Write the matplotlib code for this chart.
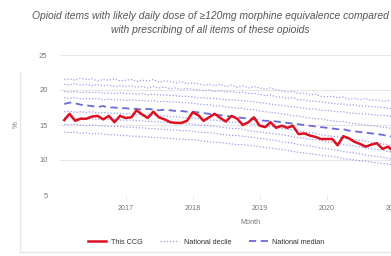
import matplotlib
matplotlib.use("Agg")
import matplotlib.pyplot as plt
import matplotlib.dates as mdates
from matplotlib.lines import Line2D
import pandas as pd

plt.rcParams['font.family'] = ['Liberation Sans', 'DejaVu Sans']

# monthly points, Feb 2016 .. Mar 2021
months = pd.date_range("2016-02-01", periods=62, freq="MS")

this_ccg = [15.7, 16.6, 15.6, 15.9, 15.9, 16.2, 16.3, 15.8, 16.3, 15.4, 16.3, 16.0,
            16.1, 17.1, 16.5, 16.0, 16.9, 16.1, 15.8, 15.4, 15.3, 15.3, 15.6, 16.8,
            16.4, 15.6, 16.1, 16.6, 16.0, 15.5, 16.3, 15.9, 15.0, 15.4, 16.1, 14.9,
            14.7, 15.4, 14.6, 14.9, 14.6, 14.9, 13.7, 13.8, 13.5, 13.3, 13.0, 13.0,
            13.0, 12.1, 13.4, 13.1, 12.6, 12.3, 11.9, 12.2, 12.4, 11.6, 11.9, 11.2,
            11.4, 11.6]

median = [18.0, 18.2, 18.1, 17.9, 17.8, 17.7, 17.6, 17.7, 17.5, 17.5, 17.4, 17.4,
          17.3, 17.3, 17.2, 17.3, 17.2, 17.1, 17.2, 17.1, 17.0, 17.0, 16.9, 16.9,
          16.8, 16.7, 16.6, 16.5, 16.4, 16.3, 16.2, 16.1, 16.0, 15.9, 15.8, 15.7,
          15.6, 15.6, 15.5, 15.4, 15.3, 15.2, 15.1, 15.0, 14.9, 14.8, 14.7, 14.6,
          14.5, 14.4, 14.4, 14.2, 14.1, 14.0, 13.9, 13.8, 13.7, 13.6, 13.4, 13.3,
          13.1, 13.0]

p90 = [21.5, 21.6, 21.4, 21.7, 21.5, 21.6, 21.3, 21.5, 21.4, 21.6, 21.3, 21.4,
       21.5, 21.2, 21.4, 21.3, 21.5, 21.1, 21.3, 21.2, 21.0, 21.2, 20.9, 21.0,
       20.9, 20.7, 20.8, 20.6, 20.8, 20.5, 20.7, 20.4, 20.6, 20.3, 20.5, 20.3,
       20.1, 20.3, 20.0, 19.9, 19.7, 19.8, 19.5, 19.6, 19.3, 19.4, 19.1, 19.0,
       19.1, 18.9, 19.0, 18.7, 18.8, 18.6, 18.8, 18.5, 18.6, 18.4, 18.5, 18.3,
       18.4, 18.2]
p80 = [20.8, 20.7, 20.9, 20.7, 20.8, 20.6, 20.8, 20.6, 20.7, 20.5, 20.6, 20.5,
       20.6, 20.4, 20.5, 20.3, 20.5, 20.3, 20.4, 20.2, 20.3, 20.1, 20.2, 20.1,
       20.0, 19.9, 20.0, 19.8, 19.9, 19.7, 19.8, 19.6, 19.7, 19.5, 19.5, 19.4,
       19.2, 19.3, 19.0, 19.0, 18.8, 18.9, 18.6, 18.6, 18.4, 18.4, 18.3, 18.2,
       18.1, 18.0, 18.0, 17.8, 17.9, 17.7, 17.7, 17.6, 17.6, 17.5, 17.4, 17.3,
       17.4, 17.2]
p70 = [19.8, 19.7, 19.8, 19.6, 19.7, 19.6, 19.7, 19.5, 19.6, 19.5, 19.6, 19.5,
       19.5, 19.4, 19.5, 19.3, 19.4, 19.3, 19.3, 19.2, 19.2, 19.1, 19.1, 19.0,
       18.9, 18.9, 18.8, 18.8, 18.7, 18.6, 18.6, 18.5, 18.5, 18.4, 18.3, 18.2,
       18.1, 18.0, 17.9, 17.8, 17.7, 17.6, 17.5, 17.4, 17.3, 17.3, 17.1, 17.1,
       17.0, 16.9, 16.9, 16.7, 16.7, 16.6, 16.6, 16.5, 16.4, 16.4, 16.3, 16.2,
       16.2, 16.1]
p60 = [18.9, 18.8, 18.9, 18.7, 18.8, 18.7, 18.8, 18.6, 18.7, 18.6, 18.6, 18.5,
       18.6, 18.5, 18.5, 18.4, 18.5, 18.3, 18.4, 18.3, 18.3, 18.2, 18.2, 18.1,
       18.0, 17.9, 17.9, 17.7, 17.7, 17.6, 17.5, 17.4, 17.4, 17.2, 17.2, 17.0,
       16.9, 16.8, 16.7, 16.6, 16.5, 16.3, 16.3, 16.1, 16.0, 15.9, 15.9, 15.7,
       15.6, 15.5, 15.5, 15.3, 15.2, 15.1, 15.0, 14.9, 14.8, 14.7, 14.6, 14.4,
       14.4, 14.2]
p40 = [16.9, 17.0, 16.8, 16.9, 16.8, 16.9, 16.7, 16.8, 16.7, 16.7, 16.6, 16.6,
       16.6, 16.5, 16.5, 16.4, 16.4, 16.3, 16.3, 16.2, 16.2, 16.1, 16.0, 16.0,
       15.9, 15.8, 15.7, 15.7, 15.6, 15.5, 15.4, 15.4, 15.3, 15.2, 15.1, 15.0,
       14.9, 14.8, 14.7, 14.5, 14.4, 14.3, 14.2, 14.0, 13.9, 13.8, 13.6, 13.5,
       13.4, 13.3, 13.1, 13.0, 12.9, 12.8, 12.7, 12.5, 12.4, 12.3, 12.2, 12.0,
       11.9, 11.8]
p30 = [16.0, 16.1, 15.9, 16.0, 15.9, 15.9, 15.8, 15.9, 15.8, 15.8, 15.7, 15.7,
       15.7, 15.6, 15.6, 15.5, 15.5, 15.4, 15.4, 15.3, 15.3, 15.2, 15.2, 15.1,
       15.0, 15.0, 14.9, 14.8, 14.7, 14.6, 14.5, 14.5, 14.4, 14.2, 14.1, 14.0,
       13.9, 13.8, 13.7, 13.6, 13.5, 13.3, 13.2, 13.1, 13.0, 12.9, 12.8, 12.6,
       12.5, 12.4, 12.2, 12.1, 12.0, 11.9, 11.7, 11.6, 11.5, 11.4, 11.2, 11.1,
       11.0, 10.9]
p20 = [15.1, 15.0, 15.1, 15.0, 14.9, 15.0, 14.9, 14.9, 14.8, 14.8, 14.8, 14.7,
       14.7, 14.6, 14.6, 14.5, 14.5, 14.4, 14.4, 14.3, 14.3, 14.2, 14.2, 14.1,
       14.0, 13.9, 13.9, 13.8, 13.7, 13.6, 13.5, 13.5, 13.4, 13.3, 13.2, 13.1,
       13.0, 12.9, 12.8, 12.6, 12.5, 12.4, 12.2, 12.1, 12.0, 11.9, 11.7, 11.6,
       11.5, 11.4, 11.2, 11.1, 11.0, 10.9, 10.7, 10.6, 10.5, 10.4, 10.2, 10.1,
       10.0, 9.9]
p10 = [14.0, 13.9, 14.0, 13.8, 13.9, 13.7, 13.8, 13.7, 13.6, 13.6, 13.5, 13.5,
       13.4, 13.4, 13.3, 13.3, 13.2, 13.2, 13.1, 13.1, 13.0, 13.0, 12.9, 12.9,
       12.8, 12.7, 12.6, 12.5, 12.5, 12.4, 12.3, 12.2, 12.2, 12.1, 12.0, 11.9,
       11.8, 11.7, 11.6, 11.5, 11.4, 11.2, 11.1, 11.0, 10.9, 10.8, 10.7, 10.6,
       10.5, 10.4, 10.2, 10.1, 10.0, 9.9, 9.8, 9.7, 9.6, 9.5, 9.4, 9.3,
       9.2, 9.1]
deciles = [p10, p20, p30, p40, p60, p70, p80, p90]

y_ticks = [5, 10, 15, 20, 25]
title = ("Opioid items with likely daily dose of \u2265120mg morphine equivalence compared\n"
         "with prescribing of all items of these opioids")

W, H = 391, 256
fig = plt.figure(figsize=(W / 100, H / 100), dpi=100)

# faint card edge, left and bottom only (the rest is cropped away)
fig.add_artist(Line2D([20 / W, 20 / W, 1], [0.72, 4 / H, 4 / H],
                      transform=fig.transFigure, color="#e6e6e6", lw=0.9))

# axes run past the right edge of the image, like the cropped original
ax = fig.add_axes([60 / W, (H - 195) / H, 380 / W, 140 / H])

dec_color = "#9c9ceb"
for i, d in enumerate(deciles):
    ax.plot(months, d, color=dec_color, lw=0.9, ls=(0, (1, 1.5)),
            label="National decile" if i == 0 else None, zorder=2)
ax.plot(months, median, color="#6a6ad8", lw=1.3, ls=(0, (4, 2.5)),
        label="National median", zorder=3)
ax.plot(months, this_ccg, color="#dc1020", lw=1.8, label="This CCG", zorder=4)

ax.set_ylim(5, 25)
ax.set_yticks(y_ticks)
ax.set_xlim(pd.Timestamp("2016-01-09"), pd.Timestamp("2021-09-10"))
ax.xaxis.set_major_locator(mdates.YearLocator())
ax.xaxis.set_major_formatter(mdates.DateFormatter("%Y"))

ax.grid(axis="y", color="#e6e6e6", lw=0.8)
ax.set_axisbelow(True)
for s in ax.spines.values():
    s.set_visible(False)
ax.tick_params(axis="y", length=0, pad=9, labelsize=5.5, labelcolor="#777777")
ax.tick_params(axis="x", length=3, width=0.5, color="#dddddd", pad=4,
               labelsize=5.2, labelcolor="#777777")

ax.set_ylabel("%", fontsize=5.5, color="#777777", labelpad=14)
ax.set_xlabel("Month", fontsize=5.2, color="#777777", labelpad=5)

fig.text(210 / W, 1 - 11 / H, title, ha="center", va="top", fontsize=7.4,
         style="italic", color="#555555", linespacing=1.45)

handles, labels = ax.get_legend_handles_labels()
order = [labels.index(n) for n in ["This CCG", "National decile", "National median"]]
fig.legend([handles[k] for k in order], [labels[k] for k in order],
           loc="center", bbox_to_anchor=(206 / W, 1 - 242 / H), ncol=3,
           frameon=False, fontsize=5.2, handlelength=2.6, columnspacing=2.5,
           handletextpad=0.6, labelcolor="#333333")

fig.savefig("out.png", dpi=100)
